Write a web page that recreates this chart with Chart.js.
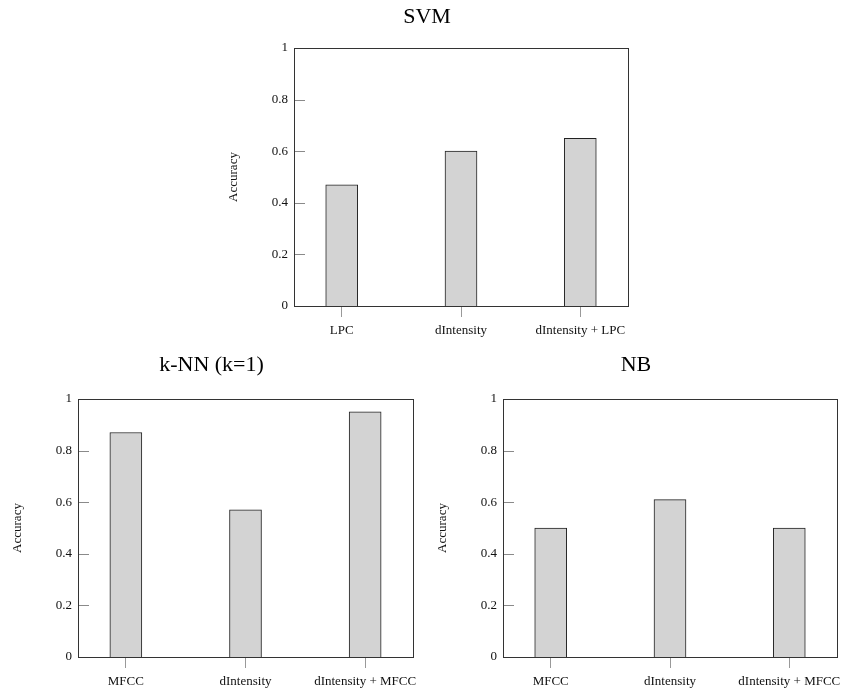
<!DOCTYPE html>
<html><head><meta charset="utf-8">
<script src="https://cdn.jsdelivr.net/npm/chart.js@4.4.1/dist/chart.umd.min.js"></script>
<style>
html,body{margin:0;padding:0;background:#fff;overflow:hidden;width:841px;height:691px;position:relative;}
canvas{position:absolute;}
</style></head><body>
<canvas id="svm" width="412" height="346" style="left:226px;top:0px;width:412px;height:346px"></canvas>
<canvas id="knn" width="413" height="341" style="left:10px;top:350px;width:413px;height:341px"></canvas>
<canvas id="nb" width="412" height="341" style="left:435px;top:350px;width:412px;height:341px"></canvas>
<script>
// ---- data ----
const svmTitle = 'SVM';
const svmLabels = ['LPC', 'dIntensity', 'dIntensity + LPC'];
const svmValues = [0.47, 0.60, 0.65];

const knnTitle = 'k-NN (k=1)';
const knnLabels = ['MFCC', 'dIntensity', 'dIntensity + MFCC'];
const knnValues = [0.87, 0.57, 0.95];

const nbTitle = 'NB';
const nbLabels = ['MFCC', 'dIntensity', 'dIntensity + MFCC'];
const nbValues = [0.50, 0.61, 0.50];

const yTicks = [0, 0.2, 0.4, 0.6, 0.8, 1];
const yTickLabels = ['0', '0.2', '0.4', '0.6', '0.8', '1'];
const yTitle = 'Accuracy';

// ---- drawing ----
const FONT = "'Liberation Serif', 'Times New Roman', serif";

const boxPlugin = {
  id: 'box',
  beforeDatasetsDraw(chart) {
    const {ctx, chartArea: a, scales: {y}} = chart;
    ctx.save();
    ctx.strokeStyle = '#8a8a8a';
    ctx.lineWidth = 1;
    yTicks.forEach(v => {
      const py = Math.round(y.getPixelForValue(v)) + 0.5;
      ctx.beginPath();
      ctx.moveTo(a.left, py);
      ctx.lineTo(a.left + 11, py);
      ctx.stroke();
    });
    ctx.restore();
  },
  afterDatasetsDraw(chart) {
    const {ctx, chartArea: a} = chart;
    ctx.save();
    ctx.strokeStyle = '#333';
    ctx.lineWidth = 1;
    ctx.strokeRect(Math.round(a.left) + 0.5, Math.round(a.top) + 0.5,
                   Math.round(a.right) - Math.round(a.left), Math.round(a.bottom) - Math.round(a.top));
    ctx.restore();
  }
};

function makeChart(id, title, labels, values, titlePad, xHeight) {
  const pts = labels.map((l, i) => ({x: i, y: values[i]}));
  return new Chart(document.getElementById(id), {
    type: 'bar',
    data: {
      datasets: [{
        data: pts,
        backgroundColor: '#d3d3d3',
        borderColor: '#222',
        borderWidth: 1,
        barThickness: 32
      }]
    },
    options: {
      responsive: false,
      animation: false,
      devicePixelRatio: 1,
      layout: {padding: {left: 0, right: 10, top: 0, bottom: 0}},
      plugins: {
        legend: {display: false},
        tooltip: {enabled: false},
        title: {
          display: true, text: title, color: '#000',
          font: {family: FONT, size: 22, weight: 'normal'},
          padding: titlePad
        }
      },
      scales: {
        x: {
          type: 'linear', min: -0.4, max: 2.4, offset: false,
          afterBuildTicks: s => { s.ticks = labels.map((l, i) => ({value: i})); },
          afterFit: s => { s.height = xHeight; s.paddingLeft = 0; s.paddingRight = 0; },
          ticks: {
            color: '#111', padding: 6, maxRotation: 0, autoSkip: false,
            font: {family: FONT, size: 13},
            callback: v => labels[v]
          },
          grid: {display: true, offset: false, drawOnChartArea: false, drawTicks: true, tickLength: 11, color: '#999'},
          border: {display: false}
        },
        y: {
          min: 0, max: 1,
          afterBuildTicks: s => { s.ticks = yTicks.map(v => ({value: v})); },
          afterFit: s => { s.width = 68; },
          ticks: {
            color: '#111', padding: 6, font: {family: FONT, size: 13},
            callback: (v, i) => yTickLabels[i]
          },
          grid: {display: false, drawTicks: false, tickLength: 0},
          border: {display: false},
          title: {display: true, text: yTitle, color: '#111', font: {family: FONT, size: 13}, padding: {top: 0, bottom: 0}}
        }
      }
    },
    plugins: [boxPlugin]
  });
}

makeChart('svm', svmTitle, svmLabels, svmValues, {top: 4, bottom: 17.6}, 40);
makeChart('knn', knnTitle, knnLabels, knnValues, {top: 1.8, bottom: 20.8}, 34);
makeChart('nb', nbTitle, nbLabels, nbValues, {top: 1.8, bottom: 20.8}, 34);
</script>
</body></html>
